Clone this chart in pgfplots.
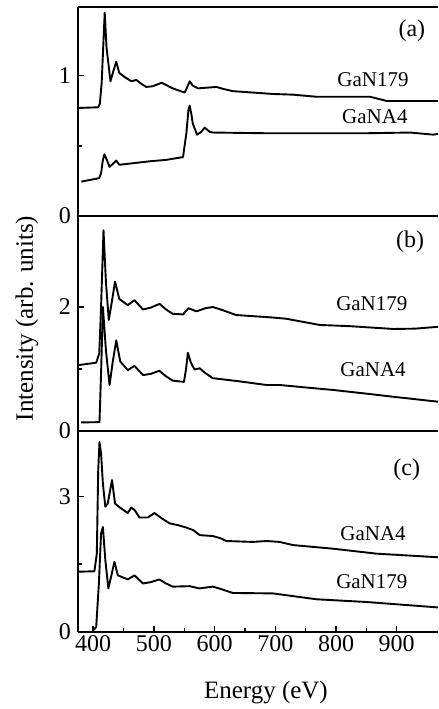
\documentclass[border=0pt]{standalone}
\usepackage{fontspec}
\setmainfont{Liberation Serif}
\usepackage{pgfplots}
\pgfplotsset{compat=1.18}

\pgfplotsset{
  panel/.style={
    scale only axis, width=180pt,
    xmin=375, xmax=968,
    axis y line*=left,
    y axis line style={-},
    axis line style={line width=1.2pt},
    ytick pos=left,
    major tick length=3pt, minor tick length=2pt,
    tick style={line width=0.7pt, black},
    minor tick num=1,
    /pgf/number format/assume math mode=true,
    tick label style={font=\fontsize{12}{12}\selectfont},
    every axis plot post/.append style={black, line width=0.95pt, line join=round, mark=none},
  },
}
\tikzset{
  lbl/.style={font=\fontsize{10.5}{10.5}\selectfont},
  plbl/.style={font=\fontsize{12}{12}\selectfont},
}

\begin{document}
\begin{tikzpicture}
% (a)
\begin{axis}[panel, name=a, at={(0,0)}, anchor=north west, height=104.5pt,
  ymin=0, ymax=1.49, ytick={0,1}, xtick=\empty]
\addplot coordinates {(375,0.77)(408,0.775)(411,0.80)(414,0.95)(419,1.45)(422,1.20)(428.5,0.96)(433,1.03)(438,1.10)(443,1.02)(452,0.99)(463,0.96)(471,0.97)(480,0.94)(487.5,0.92)(498,0.925)(513,0.95)(531,0.91)(550.7,0.88)(555,0.92)(559,0.96)(564,0.93)(572.6,0.91)(603,0.92)(615,0.905)(630,0.89)(696,0.87)(729,0.865)(768,0.85)(856,0.85)(870,0.835)(883.5,0.82)(968,0.82)};
\addplot coordinates {(380.5,0.245)(410,0.27)(413,0.305)(416,0.40)(418.6,0.44)(422.5,0.40)(427,0.35)(432,0.37)(438,0.395)(443,0.365)(465,0.376)(493,0.39)(520,0.40)(548,0.42)(553.5,0.59)(557,0.76)(559,0.786)(562,0.72)(564,0.66)(571,0.58)(578,0.60)(583.7,0.63)(592,0.60)(597,0.595)(685,0.59)(850.5,0.59)(922,0.595)(960,0.58)(968,0.585)};
\node[plbl] at (axis cs:925,1.32) {(a)};
\node[lbl] at (axis cs:861,0.97) {GaN179};
\node[lbl] at (axis cs:864,0.71) {GaNA4};
\end{axis}
% (b)
\begin{axis}[panel, name=b, at={(a.south west)}, anchor=north west, height=107.4pt,
  ymin=0, ymax=3.47, ytick={0,2}, xtick=\empty,
  ylabel={Intensity (arb. units)},
  every axis y label/.style={at={(rel axis cs:-0.142,0.523)}, rotate=90, anchor=center, font=\fontsize{12.5}{12.5}\selectfont}]
\addplot coordinates {(375,1.06)(405,1.10)(410,1.25)(413,2.0)(417,3.24)(421,2.4)(425.7,1.79)(431,2.1)(436,2.41)(443,2.13)(457,2.03)(468,2.11)(482,1.96)(495,1.99)(509.4,2.05)(520,1.96)(531,1.89)(548,1.88)(557,1.98)(570,1.93)(585,1.98)(597,2.0)(610,1.96)(635.6,1.87)(696,1.83)(718,1.81)(773,1.71)(823,1.69)(894.6,1.645)(930,1.65)(968,1.68)};
\addplot coordinates {(380,0.135)(410.4,0.14)(413,0.93)(416,2.0)(421,1.3)(427,0.74)(432,1.1)(438,1.46)(444.6,1.12)(457,0.98)(468,1.05)(482,0.90)(495,0.92)(509,0.97)(520,0.88)(531,0.81)(549.5,0.79)(553,1.0)(556,1.26)(561,1.1)(567,0.99)(575.4,1.01)(585,0.93)(597,0.85)(640,0.80)(685.5,0.74)(707,0.74)(750,0.70)(795,0.66)(850,0.60)(894,0.55)(968,0.47)};
\node[plbl] at (axis cs:922,3.06) {(b)};
\node[lbl] at (axis cs:859,2.06) {GaN179};
\node[lbl] at (axis cs:861,0.98) {GaNA4};
\end{axis}
% (c)
\begin{axis}[panel, name=c, at={(b.south west)}, anchor=north west, height=100.5pt,
  ymin=0, ymax=4.45, ytick={0,3},
  xtick={400,500,...,900}, xtick pos=bottom,
  xticklabel style={yshift=1.5pt},
  xlabel={Energy (eV)},
  every axis x label/.style={at={(rel axis cs:0.522,-0.3)}, anchor=center, font=\fontsize{12.5}{12.5}\selectfont}]
\addplot coordinates {(375,1.33)(402,1.34)(406,1.73)(408.3,3.58)(410.4,4.20)(413,3.95)(416,3.28)(420,2.77)(424,2.84)(431,3.36)(436,2.84)(444,2.75)(451.7,2.68)(457,2.63)(462.7,2.75)(468,2.70)(476.4,2.53)(490,2.53)(501,2.63)(512,2.52)(526,2.40)(540,2.36)(553,2.31)(565,2.25)(575.6,2.14)(597,2.12)(610,2.07)(619.5,2.01)(663,1.99)(685.5,2.01)(707,1.99)(729,1.92)(795,1.84)(866.7,1.73)(905,1.70)(968,1.65)};
\addplot coordinates {(399.5,0.02)(405,0.11)(409.4,1.07)(413,2.18)(416,2.32)(420,1.59)(425,0.96)(430,1.25)(435,1.55)(440.6,1.25)(457,1.16)(468,1.25)(482,1.07)(495,1.10)(509,1.16)(520,1.07)(531,1.0)(559,1.01)(575,0.96)(597,1.0)(610,0.95)(630,0.86)(696,0.85)(718,0.81)(768,0.72)(850,0.66)(968,0.54)};
\node[plbl] at (axis cs:916.5,3.58) {(c)};
\node[lbl] at (axis cs:861,2.18) {GaNA4};
\node[lbl] at (axis cs:859,1.11) {GaN179};
\end{axis}
\pgfresetboundingbox
\useasboundingbox ([xshift=-39pt, yshift=3.5pt]a.north west) rectangle ([yshift=-38.6pt]c.south east);
\end{tikzpicture}
\end{document}
